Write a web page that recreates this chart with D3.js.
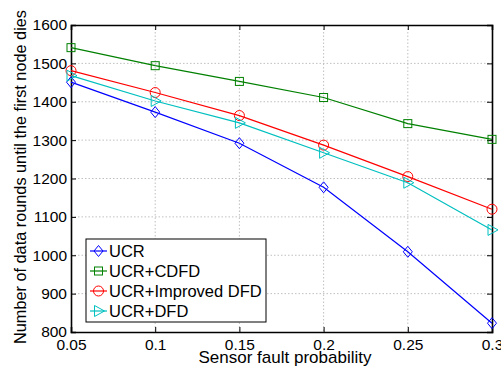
<!DOCTYPE html>
<html>
<head>
<meta charset="utf-8">
<script src="https://cdn.jsdelivr.net/npm/d3@7"></script>
<style>
  body { margin: 0; background: #fff; }
  text { font-family: "Liberation Sans", Arial, sans-serif; }
</style>
</head>
<body>
<div id="chart"></div>
<script>
// data
const faultProb = [0.05, 0.1, 0.15, 0.2, 0.25, 0.3];
const xTicks = [0.05, 0.1, 0.15, 0.2, 0.25, 0.3];
const yTicks = [800, 900, 1000, 1100, 1200, 1300, 1400, 1500, 1600];
const ucr = [1451, 1373, 1292, 1177, 1009, 823];
const ucrCdfd = [1541, 1494, 1453, 1411, 1343, 1302];
const ucrImproved = [1481, 1424, 1364, 1287, 1205, 1120];
const ucrDfd = [1468, 1402, 1345, 1267, 1189, 1066];
const seriesNames = ["UCR", "UCR+CDFD", "UCR+Improved DFD", "UCR+DFD"];

const series = [
  { name: seriesNames[0], values: ucr, color: "#0000ff", marker: "diamond" },
  { name: seriesNames[1], values: ucrCdfd, color: "#008000", marker: "square" },
  { name: seriesNames[2], values: ucrImproved, color: "#ff0000", marker: "circle" },
  { name: seriesNames[3], values: ucrDfd, color: "#00bfbf", marker: "triangle" }
];

const width = 501, height = 372;
const margin = { top: 25, right: 9, bottom: 40, left: 71 };

const svg = d3.select("#chart").append("svg")
  .attr("width", width)
  .attr("height", height);

const x = d3.scaleLinear().domain([0.05, 0.3]).range([margin.left, width - margin.right]);
const y = d3.scaleLinear().domain([800, 1600]).range([height - margin.bottom, margin.top]);

// grid
const grid = svg.append("g");
grid.selectAll("line.gx")
  .data(xTicks.slice(1, -1))
  .enter().append("line")
  .attr("x1", d => x(d)).attr("x2", d => x(d))
  .attr("y1", margin.top).attr("y2", height - margin.bottom)
  .attr("stroke", "#b0b0b0").attr("stroke-width", 0.8)
  .attr("stroke-dasharray", "1.5,2");
grid.selectAll("line.gy")
  .data(yTicks.slice(1, -1))
  .enter().append("line")
  .attr("y1", d => y(d)).attr("y2", d => y(d))
  .attr("x1", margin.left).attr("x2", width - margin.right)
  .attr("stroke", "#b0b0b0").attr("stroke-width", 0.8)
  .attr("stroke-dasharray", "1.5,2");

// axes
const fmtX = d => String(+d.toFixed(2));
const xAxis = svg.append("g")
  .attr("transform", `translate(0,${height - margin.bottom})`)
  .call(d3.axisBottom(x).tickValues(xTicks).tickSize(-5).tickPadding(10).tickFormat(fmtX));
const xTop = svg.append("g")
  .attr("transform", `translate(0,${margin.top})`)
  .call(d3.axisTop(x).tickValues(xTicks).tickSize(-5).tickFormat(""));
const yAxis = svg.append("g")
  .attr("transform", `translate(${margin.left},0)`)
  .call(d3.axisLeft(y).tickValues(yTicks).tickSize(-5).tickPadding(4).tickFormat(d3.format("d")));
const yRight = svg.append("g")
  .attr("transform", `translate(${width - margin.right},0)`)
  .call(d3.axisRight(y).tickValues(yTicks).tickSize(-5).tickFormat(""));

[xAxis, xTop, yAxis, yRight].forEach(g => {
  g.select(".domain").attr("stroke", "#000").attr("stroke-width", 1.6);
  g.selectAll(".tick line").attr("stroke", "#000").attr("stroke-width", 1);
  g.selectAll("text").attr("font-size", 15.5).attr("fill", "#000")
    .style("font-family", "'Liberation Sans', Arial, sans-serif");
});
xAxis.selectAll("text").attr("dy", "0.5em");

// axis labels
svg.append("text")
  .attr("x", 285)
  .attr("y", 363)
  .attr("text-anchor", "middle")
  .attr("font-size", 17)
  .text("Sensor fault probability");
svg.append("text")
  .attr("transform", `translate(26,177) rotate(-90)`)
  .attr("text-anchor", "middle")
  .attr("font-size", 16.3)
  .text("Number of data rounds until the first node dies");

// markers
function drawMarker(g, type, color, cx, cy) {
  if (type === "diamond") {
    g.append("path")
      .attr("d", `M${cx},${cy - 5.5}L${cx + 4.5},${cy}L${cx},${cy + 5.5}L${cx - 4.5},${cy}Z`)
      .attr("fill", "none").attr("stroke", color).attr("stroke-width", 1);
  } else if (type === "square") {
    g.append("rect")
      .attr("x", cx - 4).attr("y", cy - 4).attr("width", 8).attr("height", 8)
      .attr("fill", "none").attr("stroke", color).attr("stroke-width", 1);
  } else if (type === "circle") {
    g.append("circle")
      .attr("cx", cx).attr("cy", cy).attr("r", 5)
      .attr("fill", "none").attr("stroke", color).attr("stroke-width", 1);
  } else {
    g.append("path")
      .attr("d", `M${cx - 4},${cy - 5.5}L${cx + 6},${cy}L${cx - 4},${cy + 5.5}Z`)
      .attr("fill", "none").attr("stroke", color).attr("stroke-width", 1);
  }
}

const line = d3.line().x((d, i) => x(faultProb[i])).y(d => y(d));

series.forEach(s => {
  const g = svg.append("g");
  g.append("path")
    .datum(s.values)
    .attr("d", line)
    .attr("fill", "none")
    .attr("stroke", s.color)
    .attr("stroke-width", 1.2);
  s.values.forEach((v, i) => drawMarker(g, s.marker, s.color, x(faultProb[i]), y(v)));
});

// legend
const legend = svg.append("g");
legend.append("rect")
  .attr("x", 86).attr("y", 239).attr("width", 180).attr("height", 83)
  .attr("fill", "#fff").attr("stroke", "#000").attr("stroke-width", 1);
series.forEach((s, i) => {
  const ly = 251 + i * 20;
  legend.append("line")
    .attr("x1", 90).attr("x2", 107).attr("y1", ly).attr("y2", ly)
    .attr("stroke", s.color).attr("stroke-width", 1.2);
  drawMarker(legend, s.marker, s.color, 98.5, ly);
  legend.append("text")
    .attr("x", 109).attr("y", ly)
    .attr("dy", "0.36em")
    .attr("font-size", 16.5)
    .text(s.name);
});
</script>
</body>
</html>
